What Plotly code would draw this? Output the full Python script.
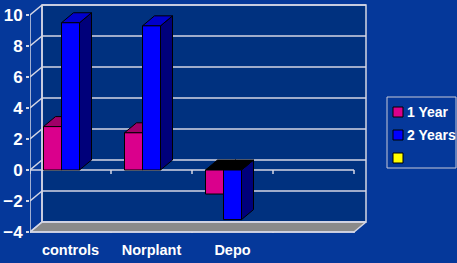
import plotly.graph_objects as go

# ---------------- data ----------------
categories = ["controls", "Norplant", "Depo", ""]
series_names = ["1 Year", "2 Years", ""]
one_year = [2.8, 2.4, -1.55, None]
two_years = [9.5, 9.3, -3.2, None]
third_series = [None, None, None, None]
y_ticks = [-4, -2, 0, 2, 4, 6, 8, 10]

# ---------------- style ----------------
PAPER_BG = "#05389A"
WALL_BG = "#00317F"
GRID = "#D4D6E4"
FLOOR = "#8A8A8A"
front_colors = ["#DA008C", "#0000FF", "#FFFF00"]
top_colors = ["#A00068", "#0000CC", "#C8C800"]
side_colors = ["#800050", "#00007A", "#808000"]
FONT = "Liberation Sans, Arial, sans-serif"

W_FIG, H_FIG = 457, 263
ML, MR, MT, MB = 30, 89, 0, 30
PLOT_W = W_FIG - ML - MR
PLOT_H = H_FIG - MT - MB
PX_PER_CAT = 81.0
PX_PER_UNIT = 15.5
ZERO_PX = 170.0
DX = 12 / PX_PER_CAT      # depth offset in category units
DY = 10 / PX_PER_UNIT     # depth offset in value units
BARGAP = 1 / 3
NSER = 3
BW = (1 - BARGAP) / NSER

x_range = [-0.5, -0.5 + PLOT_W / PX_PER_CAT]
y_range = [(ZERO_PX - PLOT_H) / PX_PER_UNIT, ZERO_PX / PX_PER_UNIT]

ncat = len(categories)
xl, xr = -0.5, ncat - 0.5
ymin, ymax = min(y_ticks), max(y_ticks)

fig = go.Figure()

def poly(xs, ys, fill, line="black", width=1, xa="x", ya="y"):
    fig.add_trace(go.Scatter(x=xs + [xs[0]], y=ys + [ys[0]], mode="lines", fill="toself",
                             fillcolor=fill, line=dict(color=line, width=width),
                             hoverinfo="skip", showlegend=False, xaxis=xa, yaxis=ya))

# back wall
poly([xl + DX, xr + DX, xr + DX, xl + DX],
     [ymin + DY, ymin + DY, ymax + DY, ymax + DY], WALL_BG, line=GRID, width=1.5)
# floor
poly([xl, xr, xr + DX, xl + DX], [ymin, ymin, ymin + DY, ymin + DY], FLOOR, line=GRID, width=1.5)

# gridlines on back wall + left wall diagonals + frame lines
gx, gy = [], []
for v in y_ticks:
    gx += [xl + DX, xr + DX, None, xl, xl + DX, None]
    gy += [v + DY, v + DY, None, v, v + DY, None]
gx += [xl, xl, None, xl + DX, xl + DX, None]
gy += [ymin, ymax, None, ymin + DY, ymax + DY, None]
# front zero line and floor front edge with category ticks
tick_len = 4 / PX_PER_UNIT
for base in (0, ymin):
    gx += [xl, xr, None]
    gy += [base, base, None]
    for c in range(ncat + 1):
        gx += [xl + c, xl + c, None]
        gy += [base, base - tick_len, None]
fig.add_trace(go.Scatter(x=gx, y=gy, mode="lines", line=dict(color=GRID, width=1.5),
                         hoverinfo="skip", showlegend=False))

# 3D depth faces (tops and sides) computed from the data
all_series = [one_year, two_years, third_series]
for i in range(ncat):
    for k, vals in enumerate(all_series):
        v = vals[i]
        if v is None:
            continue
        x0 = i + (k - (NSER - 1) / 2) * BW - BW / 2
        x1 = x0 + BW
        lo, hi = min(0, v), max(0, v)
        # side
        poly([x1, x1 + DX, x1 + DX, x1], [lo, lo + DY, hi + DY, hi], side_colors[k])
        # top
        tcol = top_colors[k] if v >= 0 else "#000000"
        poly([x0, x1, x1 + DX, x0 + DX], [hi, hi, hi + DY, hi + DY], tcol)

# front faces: real bar traces on overlay axes
xpos = list(range(ncat))
for k, vals in enumerate(all_series):
    fig.add_trace(go.Bar(x=xpos, y=vals, name=series_names[k] or " ",
                         marker=dict(color=front_colors[k], line=dict(color="black", width=1)),
                         xaxis="x2", yaxis="y2", showlegend=False))

fig.update_layout(
    width=W_FIG, height=H_FIG,
    margin=dict(l=ML, r=MR, t=MT, b=MB, autoexpand=False),
    paper_bgcolor=PAPER_BG, plot_bgcolor=PAPER_BG,
    barmode="group", bargap=BARGAP, bargroupgap=0,
    showlegend=False,
    font=dict(family=FONT, color="white", size=14, weight="bold"),
    xaxis=dict(range=x_range, tickvals=xpos[:3], ticktext=categories[:3],
               showgrid=False, zeroline=False, showline=False, ticks="",
               ticklabelstandoff=6,
               tickfont=dict(size=14.5, color="white", family=FONT, weight="bold"),
               fixedrange=True, automargin=False),
    yaxis=dict(range=y_range, tickvals=y_ticks, showgrid=False, zeroline=False,
               showline=False, ticks="outside", ticklen=3, tickcolor=GRID, tickwidth=1.5,
               tickfont=dict(size=17, color="white", family=FONT, weight="bold"),
               fixedrange=True, automargin=False),
    xaxis2=dict(range=x_range, overlaying="x", visible=False, fixedrange=True, automargin=False),
    yaxis2=dict(range=y_range, overlaying="y", visible=False, fixedrange=True, automargin=False),
)

# legend (drawn in pixel-derived paper coordinates)
def px2paper(px, py):
    return (px - ML) / PLOT_W, 1 - (py - MT) / PLOT_H

bx0, by0 = px2paper(387, 97)
bx1, by1 = px2paper(456, 168)
fig.add_shape(type="rect", xref="paper", yref="paper", x0=bx0, y0=by0, x1=bx1, y1=by1,
              line=dict(color="#C8C8D8", width=1), fillcolor="rgba(0,0,0,0)")
for k, name in enumerate(series_names):
    cy = 112 + 23 * k
    sx0, sy0 = px2paper(393, cy - 5)
    sx1, sy1 = px2paper(403, cy + 5)
    fig.add_shape(type="rect", xref="paper", yref="paper", x0=sx0, y0=sy0, x1=sx1, y1=sy1,
                  line=dict(color="black", width=1), fillcolor=front_colors[k])
    if name:
        tx, ty = px2paper(405, cy)
        fig.add_annotation(xref="paper", yref="paper", x=tx, y=ty, text=name,
                           showarrow=False, xanchor="left", yanchor="middle",
                           font=dict(size=14, color="white", family=FONT, weight="bold"))

fig.write_html("out.html", config={"displayModeBar": False},
               post_script="document.body.style.margin='0px';"
                           "document.body.style.overflow='hidden';"
                           f"document.body.style.background='{PAPER_BG}';")
